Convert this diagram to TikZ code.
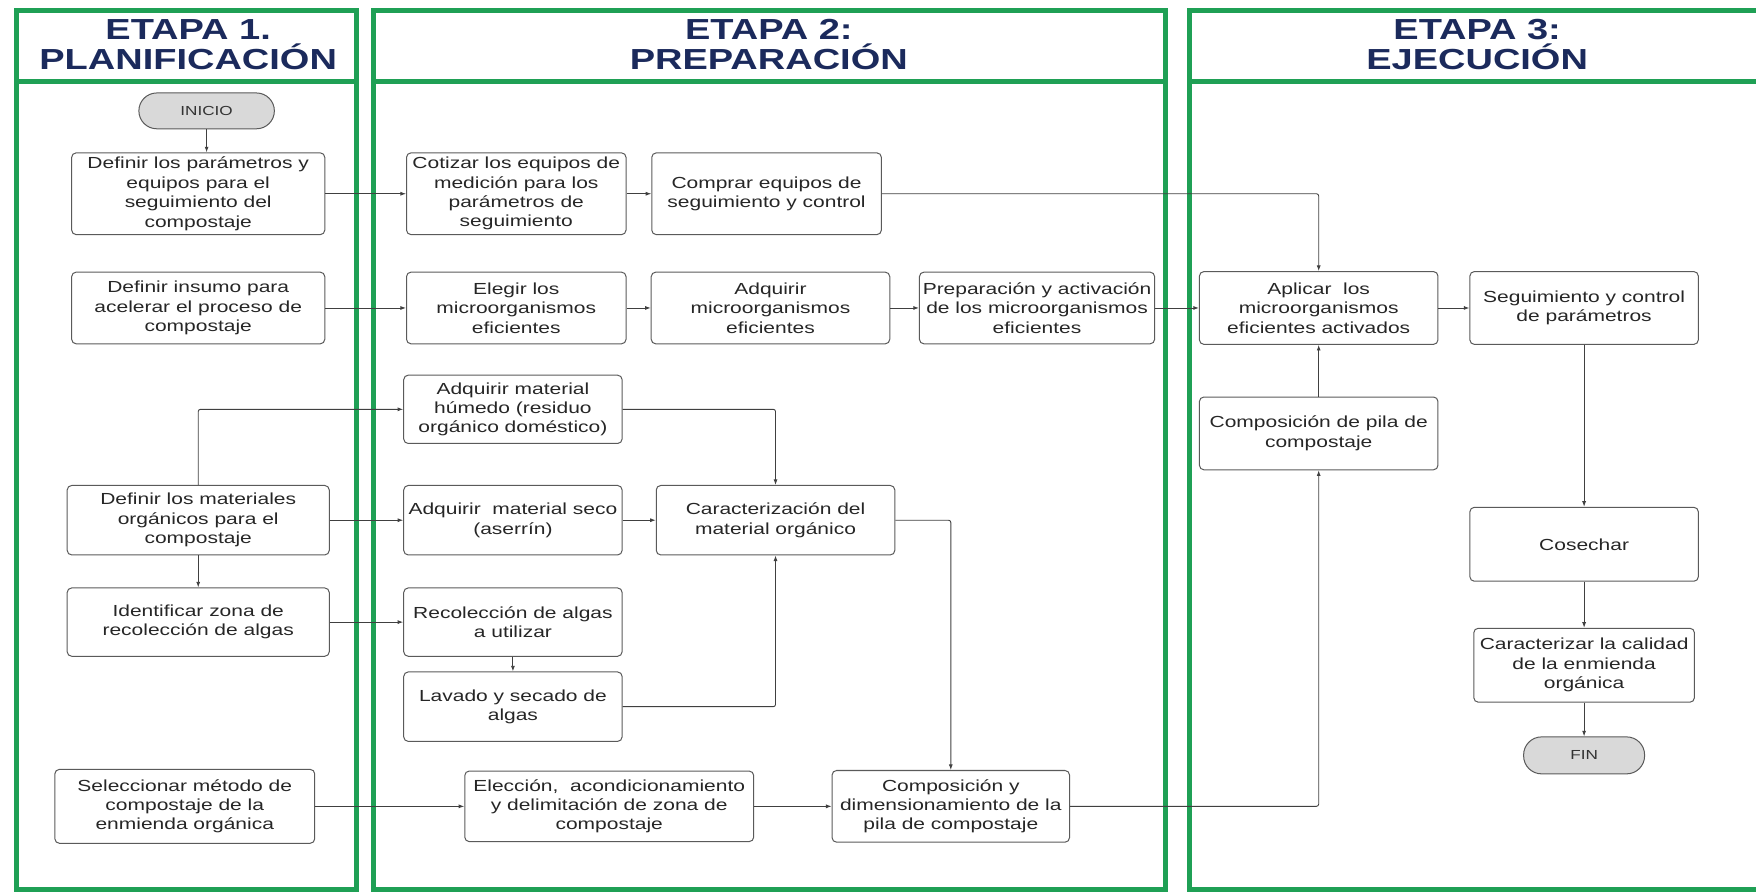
\documentclass[tikz,border=0pt]{standalone}
\usepackage{fontspec}
\setmainfont[FakeStretch=1.31]{Liberation Sans}
\usetikzlibrary{arrows.meta}
\definecolor{verdeetapa}{HTML}{1FA055}
\definecolor{azultitulo}{HTML}{1B2A5C}
\definecolor{bordecaja}{HTML}{5A5A5A}
\definecolor{rellenofin}{HTML}{D9D9D9}
\tikzset{
	caja/.style={draw=bordecaja, line width=0.9pt, rounded corners=4pt, align=center, inner sep=1pt, text=black!85, font=\fontsize{14.3}{17.3}\selectfont},
	terminal/.style={draw=bordecaja, fill=rellenofin, line width=0.9pt, rounded corners=16pt, text=black!80, font=\fontsize{11.7}{13}\selectfont},
	flecha/.style={draw=black!75, line width=0.8pt, rounded corners=2pt, -{Latex[length=5pt,width=3.6pt]}},
	etapa/.style={draw=verdeetapa, line width=4.5pt},
	titulo/.style={align=center, text=azultitulo, font=\bfseries\fontsize{25.9}{26.8}\selectfont}
}
\def\paso[#1](#2)(#3,#4)(#5:#6)#7{\node[#1, minimum width=#5pt, minimum height=#6pt] (#2) at (#3,#4) {#7};}

\begin{document}
\begin{tikzpicture}[x=1pt, y=-1pt]
			%%%%% START %%%%%
			
			\useasboundingbox (0,0) rectangle (1568,798);
			
			\draw[etapa] (14.5,9.5) rectangle (318.5,794.5);
			\draw[etapa] (14.5,73) -- (318.5,73);
			\draw[etapa] (333.5,9.5) rectangle (1040.5,794.5);
			\draw[etapa] (333.5,73) -- (1040.5,73);
			\draw[etapa] (1568,9.5) -- (1062.5,9.5) -- (1062.5,794.5) -- (1568,794.5);
			\draw[etapa] (1062.5,73) -- (1568,73);
			
			\node[titulo] (t1) at (168,40) {ETAPA 1.\\PLANIFICACIÓN};
			\node[titulo] (t2) at (686.5,40) {ETAPA 2:\\PREPARACIÓN};
			\node[titulo] (t3) at (1319,40) {ETAPA 3:\\EJECUCIÓN};
			
			% etapa 1
			\node[terminal, minimum width=121pt, minimum height=32pt] (inicio) at (184.5,99) {INICIO};
			\paso[caja](d1)(177,173)(226:73){Definir los parámetros y\\equipos para el\\seguimiento del\\compostaje}
			\paso[caja](d2)(177,275)(226:64){Definir insumo para\\acelerar el proceso de\\compostaje}
			\paso[caja](d3)(177,464.5)(234:62){Definir los materiales\\orgánicos para el\\compostaje}
			\paso[caja](d4)(177,555.5)(234:61){Identificar zona de\\recolección de algas}
			\paso[caja](d5)(165,720)(232:66){Seleccionar método de\\compostaje de la\\enmienda orgánica}
			
			% etapa 2
			\paso[caja](c1)(461,173)(196:73){Cotizar los equipos de\\medición para los\\parámetros de\\seguimiento}
			\paso[caja](c2)(684.5,173)(205:73){Comprar equipos de\\seguimiento y control}
			\paso[caja](e1)(461,275)(196:64){Elegir los\\microorganismos\\eficientes}
			\paso[caja](e2)(688,275)(213:64){Adquirir\\microorganismos\\eficientes}
			\paso[caja](e3)(926,275)(210:64){Preparación y activación\\de los microorganismos\\eficientes}
			\paso[caja](h)(458,365.5)(195:61){Adquirir material\\húmedo (residuo\\orgánico doméstico)}
			\paso[caja](s)(458,464.5)(195:62){Adquirir\ \ material seco\\(aserrín)}
			\paso[caja](k)(692.5,464.5)(213:62){Caracterización del\\material orgánico}
			\paso[caja](r)(458,555.5)(195:61){Recolección de algas\\a utilizar}
			\paso[caja](l)(458,631)(195:62){Lavado y secado de\\algas}
			\paso[caja](a)(544,720)(258:63){Elección,\ \ acondicionamiento\\y delimitación de zona de\\compostaje}
			\paso[caja](p)(849,720)(212:64){Composición y\\dimensionamiento de la\\pila de compostaje}
			
			% etapa 3
			\paso[caja](ap)(1177.5,275)(213:65){Aplicar\ \ los\\microorganismos\\eficientes activados}
			\paso[caja](sc)(1414.5,275)(204:65){Seguimiento y control\\de parámetros}
			\paso[caja](cp)(1177.5,387)(213:65){Composición de pila de\\compostaje}
			\paso[caja](co)(1414.5,486)(204:66){Cosechar}
			\paso[caja](cq)(1414.5,594)(197:66){Caracterizar la calidad\\de la enmienda\\orgánica}
			\node[terminal, minimum width=108pt, minimum height=33pt] (fin) at (1414.5,674.5) {FIN};
			
			% flechas
			\draw[flecha] (inicio.south) -- (inicio.south |- d1.north);
			\draw[flecha] (d1.east) -- (c1.west);
			\draw[flecha] (c1.east) -- (c2.west);
			\draw[flecha] (c2.east) -| (ap.north);
			\draw[flecha] (d2.east) -- (e1.west);
			\draw[flecha] (e1.east) -- (e2.west);
			\draw[flecha] (e2.east) -- (e3.west);
			\draw[flecha] (e3.east) -- (ap.west);
			\draw[flecha] (ap.east) -- (sc.west);
			\draw[flecha] (sc.south) -- (co.north);
			\draw[flecha] (co.south) -- (cq.north);
			\draw[flecha] (cq.south) -- (fin.north);
			\draw[flecha] (cp.north) -- (ap.south);
			
			\draw[flecha] (d3.north) |- (h.west);
			\draw[flecha] (d3.east) -- (s.west);
			\draw[flecha] (d3.south) -- (d4.north);
			\draw[flecha] (d4.east) -- (r.west);
			\draw[flecha] (r.south) -- (l.north);
			\draw[flecha] (h.east) -| (k.north);
			\draw[flecha] (s.east) -- (k.west);
			\draw[flecha] (l.east) -| (k.south);
			\draw[flecha] (k.east) -| (p.north);
			
			\draw[flecha] (d5.east) -- (a.west);
			\draw[flecha] (a.east) -- (p.west);
			\draw[flecha] (p.east) -| (cp.south);
			
			%%%%% END %%%%%
\end{tikzpicture}
\end{document}
